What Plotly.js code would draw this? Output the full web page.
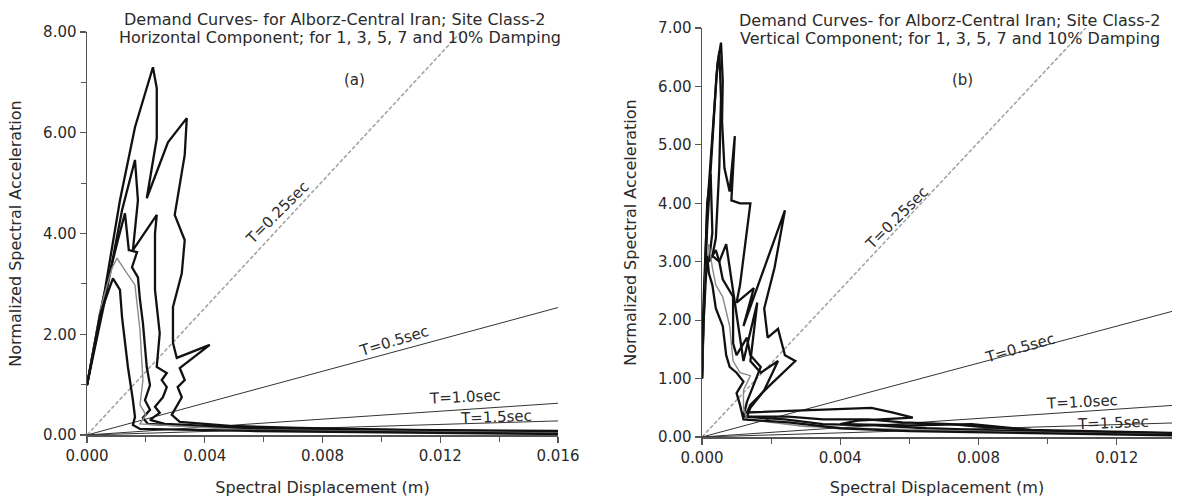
<!DOCTYPE html>
<html>
<head>
<meta charset="utf-8">
<script src="https://cdn.plot.ly/plotly-3.0.1.min.js"></script>
<style>
html,body{margin:0;padding:0;background:#fff;}
#chart{width:1178px;height:497px;}
</style>
</head>
<body>
<div id="chart"></div>
<script>
// ---------- Panel (a): Horizontal component ----------
// Spectral displacement (m) and normalized spectral acceleration, per damping ratio
const hDamp1_sd  = [0,0.00061,0.00112,0.00163,0.00224,0.00237,0.00237,0.00203,0.00275,0.00339,0.00332,0.00298,0.00325,0.00332,0.00322,0.00292,0.00292,0.00305,0.00417,0.00315,0.00332,0.00308,0.00322,0.00305,0.00288,0.00315,0.00485,0.0072,0.0106,0.016];
const hDamp1_sa  = [0.99,2.88,4.66,6.11,7.30,6.88,5.89,4.70,5.81,6.29,5.56,4.37,3.97,3.87,3.21,2.54,1.83,1.53,1.79,1.33,1.09,0.95,0.75,0.56,0.40,0.26,0.18,0.14,0.10,0.08];
const hDamp3_sd  = [0,0.00061,0.00119,0.00163,0.00173,0.00156,0.00237,0.00231,0.00231,0.00247,0.00237,0.00271,0.00254,0.00271,0.00258,0.00231,0.00247,0.00214,0.00264,0.0055,0.0106,0.016];
const hDamp3_sa  = [0.99,2.68,4.46,5.46,4.66,3.67,4.37,4.00,2.88,2.02,1.35,1.23,1.09,0.95,0.75,0.56,0.44,0.30,0.22,0.14,0.10,0.06];
const hDamp5_sd  = [0,0.00054,0.00105,0.00129,0.00142,0.00170,0.00153,0.00173,0.00180,0.00190,0.00203,0.00214,0.00197,0.00214,0.00190,0.00207,0.0055,0.016];
const hDamp5_sa  = [0.99,2.68,3.87,4.40,3.67,3.63,3.33,3.13,2.68,2.22,1.35,0.99,0.69,0.50,0.34,0.22,0.12,0.04];
const hDamp7_sd  = [0,0.00044,0.00085,0.00102,0.00129,0.00163,0.00180,0.00190,0.00180,0.00200,0.00180,0.0055,0.016];
const hDamp7_sa  = [0.99,2.48,3.31,3.51,3.27,2.98,2.08,1.09,0.60,0.40,0.22,0.10,0.04];
const hDamp10_sd = [0,0.00044,0.00088,0.00112,0.00119,0.00139,0.00156,0.00163,0.00156,0.00180,0.0055,0.016];
const hDamp10_sa = [0.99,2.38,3.11,2.88,2.34,1.35,0.69,0.36,0.20,0.12,0.08,0.02];

// ---------- Panel (b): Vertical component ----------
const vDamp1_sd  = [0,0.00005,0.00015,0.0003,0.00045,0.00055,0.0006,0.00058,0.00065,0.0008,0.00095,0.00085,0.0011,0.0014,0.0011,0.0010,0.0015,0.0012,0.0024,0.0021,0.0018,0.0019,0.0022,0.0024,0.0027,0.0019,0.0014,0.0013,0.0025,0.0040,0.0049,0.0055,0.0061,0.0045,0.0040,0.0060,0.0078,0.0095,0.0136];
const vDamp1_sa  = [1.0,2.4,3.9,5.2,6.4,6.75,6.1,5.4,4.6,4.2,5.15,4.05,4.0,4.0,2.6,2.3,2.55,1.9,3.88,2.9,2.2,1.7,1.85,1.4,1.3,0.85,0.55,0.42,0.45,0.48,0.5,0.42,0.33,0.28,0.22,0.2,0.22,0.12,0.07];
const vDamp3_sd  = [0,0.00005,0.00015,0.0003,0.00042,0.0005,0.00055,0.0005,0.0004,0.0003,0.0005,0.0007,0.0008,0.0012,0.0016,0.0014,0.0017,0.0022,0.0018,0.0014,0.0013,0.0025,0.0035,0.0048,0.0058,0.0072,0.0080,0.0100,0.0136];
const vDamp3_sa  = [1.0,2.2,3.6,5.0,6.2,6.6,5.8,4.6,3.4,3.1,3.0,3.3,2.9,1.3,2.3,1.3,1.1,1.3,0.8,0.5,0.35,0.35,0.3,0.3,0.25,0.22,0.18,0.1,0.06];
const vDamp5_sd  = [0,0.00005,0.0001,0.00015,0.00025,0.0003,0.0002,0.0004,0.0005,0.0006,0.0009,0.0009,0.0010,0.0013,0.0014,0.0017,0.0015,0.0013,0.0012,0.0024,0.0035,0.0050,0.0065,0.0080,0.0136];
const vDamp5_sa  = [1.0,2.0,3.0,4.0,4.5,3.5,3.0,3.2,3.0,2.7,2.4,1.6,1.4,1.7,1.4,1.2,0.9,0.6,0.35,0.3,0.22,0.2,0.15,0.12,0.05];
const vDamp7_sd  = [0,0.00005,0.0001,0.0002,0.0003,0.0004,0.0006,0.0008,0.0009,0.0011,0.0014,0.0012,0.0012,0.0013,0.0030,0.0050,0.0080,0.0136];
const vDamp7_sa  = [1.0,2.0,2.8,3.3,2.9,2.6,2.4,1.9,1.3,1.1,1.05,0.8,0.5,0.3,0.18,0.14,0.1,0.04];
const vDamp10_sd = [0,0.00003,0.0001,0.00015,0.0002,0.0003,0.0004,0.0006,0.0007,0.0008,0.0010,0.0012,0.0010,0.0011,0.0012,0.0025,0.0040,0.0060,0.0136];
const vDamp10_sa = [1.0,1.8,2.6,3.1,2.8,2.6,2.2,1.9,1.4,1.2,1.1,0.95,0.75,0.55,0.3,0.25,0.15,0.1,0.03];

// ---------- Constant-period reference lines (end points) ----------
const periodLabels = ["T=0.25sec","T=0.5sec","T=1.0sec","T=1.5sec"];
const hRef_sd = [[0,0.0127],[0,0.016],[0,0.016],[0,0.016]];
const hRef_sa = [[0,8.0],[0,2.53],[0,0.63],[0,0.28]];
const vRef_sd = [[0,0.0111],[0,0.0136],[0,0.0136],[0,0.0136]];
const vRef_sa = [[0,7.0],[0,2.15],[0,0.54],[0,0.24]];

const titleA = ["Demand Curves- for Alborz-Central Iran; Site Class-2","Horizontal Component; for 1, 3, 5, 7 and 10% Damping"];
const titleB = ["Demand Curves- for Alborz-Central Iran; Site Class-2","Vertical Component; for 1, 3, 5, 7 and 10% Damping"];
const xTitle = "Spectral Displacement (m)";
const yTitle = "Normalized Spectral Acceleration";

const FONT = "DejaVu Sans, Verdana, sans-serif";
const TXT = "#2a2a2a";
const traces = [];
const refStyles = [
  {color:"#a0a0a0", width:1.5, dash:"4px,2px"},
  {color:"#333", width:1},
  {color:"#333", width:1},
  {color:"#333", width:1}
];
function addRefs(sd, sa, xa, ya){
  for(let i=0;i<sd.length;i++){
    traces.push({x:sd[i], y:sa[i], xaxis:xa, yaxis:ya, mode:"lines", line:refStyles[i], hoverinfo:"skip", showlegend:false});
  }
}
addRefs(hRef_sd, hRef_sa, "x", "y");
addRefs(vRef_sd, vRef_sa, "x2", "y2");

const hCurves = [[hDamp1_sd,hDamp1_sa],[hDamp3_sd,hDamp3_sa],[hDamp5_sd,hDamp5_sa],[hDamp7_sd,hDamp7_sa],[hDamp10_sd,hDamp10_sa]];
const vCurves = [[vDamp1_sd,vDamp1_sa],[vDamp3_sd,vDamp3_sa],[vDamp5_sd,vDamp5_sa],[vDamp7_sd,vDamp7_sa],[vDamp10_sd,vDamp10_sa]];
const dampNames = ["1%","3%","5%","7%","10%"];
const curveStyle = [
  {color:"#111", width:2.3},
  {color:"#111", width:2.3},
  {color:"#111", width:2.3},
  {color:"#8a8a8a", width:1.4},
  {color:"#111", width:2.3}
];
hCurves.forEach((c,i)=>traces.push({x:c[0], y:c[1], xaxis:"x", yaxis:"y", mode:"lines", name:dampNames[i], line:curveStyle[i], showlegend:false}));
vCurves.forEach((c,i)=>traces.push({x:c[0], y:c[1], xaxis:"x2", yaxis:"y2", mode:"lines", name:dampNames[i], line:curveStyle[i], showlegend:false}));

const W=1178, H=497;
const tickFont = {family:FONT, size:15, color:TXT};
const axTitleFont = {family:FONT, size:16, color:TXT};
const axBase = {
  showgrid:false, zeroline:false, showline:true, linecolor:"#555", linewidth:1.5,
  ticks:"outside", ticklen:6, tickcolor:"#555", tickwidth:1.2,
  tickfont:tickFont
};
const layout = {
  width:W, height:H, margin:{l:0,r:0,t:0,b:0},
  paper_bgcolor:"#fff", plot_bgcolor:"#fff", showlegend:false,
  font:{family:FONT, color:TXT},
  xaxis: Object.assign({}, axBase, {domain:[87/W, 558/W], range:[0,0.016], tickvals:[0,0.004,0.008,0.012,0.016], tickformat:".3f",
    minor:{ticks:"outside", ticklen:5, tickcolor:"#555", dtick:0.002, tick0:0}, anchor:"y",
    title:{text:xTitle, font:axTitleFont, standoff:18}}),
  yaxis: Object.assign({}, axBase, {domain:[(H-435)/H, (H-32)/H], range:[0,8], tickvals:[0,2,4,6,8], tickformat:".2f",
    minor:{ticks:"outside", ticklen:5, tickcolor:"#555", dtick:1, tick0:0}, anchor:"x",
    title:{text:yTitle, font:axTitleFont, standoff:17}}),
  xaxis2: Object.assign({}, axBase, {domain:[702/W, 1172/W], range:[0,0.0136], tickvals:[0,0.004,0.008,0.012], tickformat:".3f",
    minor:{ticks:"outside", ticklen:5, tickcolor:"#555", dtick:0.002, tick0:0}, anchor:"y2",
    title:{text:xTitle, font:axTitleFont, standoff:18}}),
  yaxis2: Object.assign({}, axBase, {domain:[(H-437)/H, (H-28)/H], range:[0,7], tickvals:[0,1,2,3,4,5,6,7], tickformat:".2f", anchor:"x2",
    title:{text:yTitle, font:axTitleFont, standoff:17}}),
  annotations:[]
};
const ann = layout.annotations;
function txt(text, x, y, xref, yref, size, angle){
  ann.push({text:text, x:x, y:y, xref:xref, yref:yref, showarrow:false, textangle:angle||0,
    font:{family:FONT, size:size, color:TXT}, xanchor:"center", yanchor:"middle"});
}
// Titles (paper coords)
txt(titleA[0], 334/W, 1-19/H, "paper","paper",16,0);
txt(titleA[1], 340/W, 1-37/H, "paper","paper",16,0);
txt(titleB[0], 950/W, 1-20/H, "paper","paper",16,0);
txt(titleB[1], 950/W, 1-38/H, "paper","paper",16,0);
txt("(a)", 0.00908, 7.04, "x","y",15,0);
txt("(b)", 0.00753, 6.11, "x2","y2",15,0);
// Period labels
txt(periodLabels[0], 0.00647, 4.40, "x","y",15,-45);
txt(periodLabels[1], 0.01044, 1.86, "x","y",15,-17);
txt(periodLabels[2], 0.01285, 0.75, "x","y",15,-3);
txt(periodLabels[3], 0.0139, 0.36, "x","y",15,-2);
txt(periodLabels[0], 0.00564, 3.75, "x2","y2",15,-45);
txt(periodLabels[1], 0.0092, 1.52, "x2","y2",15,-16);
txt(periodLabels[2], 0.0110, 0.60, "x2","y2",15,-3);
txt(periodLabels[3], 0.0119, 0.24, "x2","y2",15,-2);

Plotly.newPlot("chart", traces, layout, {displayModeBar:false, staticPlot:true});
</script>
</body>
</html>
